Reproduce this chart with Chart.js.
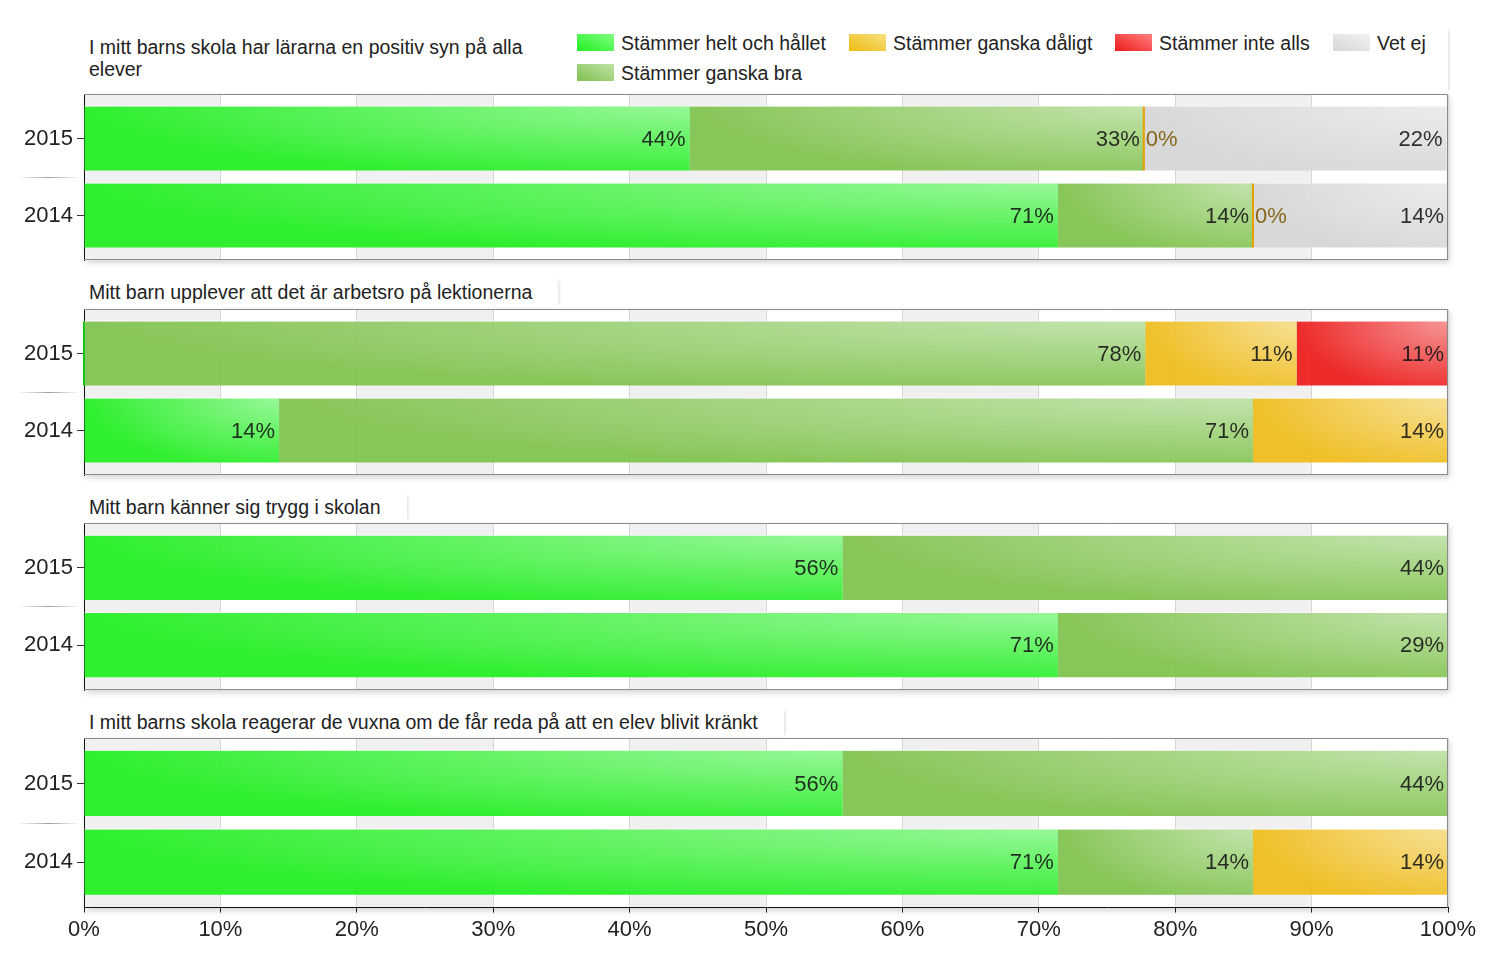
<!DOCTYPE html>
<html lang="sv">
<head>
<meta charset="utf-8">
<title>Enkät 2014-2015</title>
<script src="https://cdn.jsdelivr.net/npm/chart.js@4.4.1/dist/chart.umd.min.js"></script>
<style>
    body { margin: 0; background: #fff; font-family: "Liberation Sans", Arial, sans-serif; color: #222; }
    #page { position: relative; width: 1500px; height: 958px; overflow: hidden; }
    .panel { position: absolute; left: 0; width: 1500px; }
    .title { position: absolute; left: 84px; padding: 2px 26px 3px 5px; font-size: 19.5px; line-height: 22px;
             background: #fff; box-shadow: 3px 0 3px -2px rgba(0,0,0,0.15); white-space: nowrap; }
    .title.first { box-shadow: none; white-space: normal; }
    #topbox { position: absolute; left: 84px; top: 28px; width: 1364px; height: 64px; background: #fff;
              box-shadow: 3px 0 3px -2px rgba(0,0,0,0.15); }
    .legend-item { position: absolute; font-size: 19.5px; line-height: 20px; white-space: nowrap; padding-left: 44px; }
    .legend-item .box { position: absolute; left: 0; top: 1px; width: 37px; height: 17px; }
</style>
</head>
<body>
<div id="page">
    <div id="topbox"></div>
    <div id="legend"></div>
    <div class="title first" style="top:34px; width:460px;">I mitt barns skola har lärarna en positiv syn på alla elever</div>
    <div class="title" style="top:279px;">Mitt barn upplever att det är arbetsro på lektionerna</div>
    <div class="title" style="top:494px;">Mitt barn känner sig trygg i skolan</div>
    <div class="title" style="top:709px;">I mitt barns skola reagerar de vuxna om de får reda på att en elev blivit kränkt</div>
    <div class="panel" style="top:86px; height:182px;"><canvas id="chart1"></canvas></div>
    <div class="panel" style="top:301px; height:182px;"><canvas id="chart2"></canvas></div>
    <div class="panel" style="top:515px; height:183px;"><canvas id="chart3"></canvas></div>
    <div class="panel" style="top:730px; height:228px;"><canvas id="chart4"></canvas></div>
</div>
<script>
const years = ['2015', '2014'];
const seriesNames = ['Stämmer helt och hållet', 'Stämmer ganska bra', 'Stämmer ganska dåligt', 'Stämmer inte alls', 'Vet ej'];
const seriesColors = ['rgba(34,238,34,0.94)', 'rgba(128,194,78,0.94)', 'rgba(238,188,28,0.94)', 'rgba(236,30,30,0.94)', 'rgba(214,214,214,0.94)'];
const zeroLineColors = ['#18c818', '#6aa840', '#e8a000', '#d01010', '#b0b0b0'];
const swatchGradients = [
    'linear-gradient(to top right, #22ee22, #80ff80)',
    'linear-gradient(to top right, #80c050, #bfe3a6)',
    'linear-gradient(to top right, #eebb10, #f8e080)',
    'linear-gradient(to top right, #ee1a1a, #ff8080)',
    'linear-gradient(to top right, #d6d6d6, #f2f2f2)'
];
const xTicks = [0, 10, 20, 30, 40, 50, 60, 70, 80, 90, 100];

// values per series: [2015, 2014]; null = no answers in that group
const q1Values = [[44.4, 71.4], [33.3, 14.3], [0, 0], [null, null], [22.2, 14.3]];
const q2Values = [[0, 14.3], [77.8, 71.4], [11.1, 14.3], [11.1, null], [null, null]];
const q3Values = [[55.6, 71.4], [44.4, 28.6], [null, null], [null, null], [null, null]];
const q4Values = [[55.6, 71.4], [44.4, 14.3], [null, 14.3], [null, null], [null, null]];

// legend layout: [series index, left, top]
const legendSlots = [[0, 577, 33], [2, 849, 33], [3, 1115, 33], [4, 1333, 33], [1, 577, 63]];

const FONT = '"Liberation Sans", Arial, sans-serif';

document.addEventListener("DOMContentLoaded", function () {

    const legend = document.getElementById('legend');
    legendSlots.forEach(([si, left, top]) => {
        const item = document.createElement('div');
        item.className = 'legend-item';
        item.style.left = left + 'px';
        item.style.top = top + 'px';
        item.innerHTML = '<span class="box" style="background:' + swatchGradients[si] + '"></span>' + seriesNames[si];
        legend.appendChild(item);
    });

    const panelPlugin = {
        id: 'panelDeco',
        beforeDraw(chart) {
            const { ctx, chartArea: a } = chart;
            const x = chart.scales.x;
            ctx.save();
            ctx.shadowColor = 'rgba(0,0,0,0.16)';
            ctx.shadowBlur = 6;
            ctx.shadowOffsetX = 2;
            ctx.shadowOffsetY = 3;
            ctx.fillStyle = '#fff';
            ctx.fillRect(a.left, a.top, a.right - a.left, a.bottom - a.top);
            ctx.restore();
            // alternating bands
            ctx.fillStyle = '#f0f0f0';
            for (let i = 0; i < xTicks.length - 1; i += 2) {
                const x0 = x.getPixelForValue(xTicks[i]);
                const x1 = x.getPixelForValue(xTicks[i + 1]);
                ctx.fillRect(x0, a.top, x1 - x0, a.bottom - a.top);
            }
        },
        afterDatasetsDraw(chart) {
            const { ctx, chartArea: a } = chart;
            chart.data.datasets.forEach((ds, di) => {
                const meta = chart.getDatasetMeta(di);
                meta.data.forEach((bar, j) => {
                    const v = ds.data[j].x;
                    const left = Math.min(bar.base, bar.x);
                    const right = Math.max(bar.base, bar.x);
                    const h = bar.height;
                    const top = bar.y - h / 2;
                    ctx.save();
                    ctx.font = '22px ' + FONT;
                    ctx.textBaseline = 'middle';
                    if (right - left < 1) {
                        ctx.fillStyle = zeroLineColors[ds.seriesIndex];
                        ctx.fillRect(bar.x - 1, top, 2, h);
                        if (bar.x > a.left + 3) {
                            ctx.fillStyle = '#86661a';
                            ctx.textAlign = 'left';
                            ctx.fillText(Math.round(v) + '%', bar.x + 2, bar.y + 1);
                        }
                        ctx.restore();
                        return;
                    }
                    // highlight, lighter to the top right
                    ctx.save();
                    ctx.translate(right, top);
                    ctx.scale(right - left, h * 1.15);
                    const g = ctx.createRadialGradient(0, 0, 0, 0, 0, 1);
                    g.addColorStop(0, 'rgba(255,255,255,0.5)');
                    g.addColorStop(1, 'rgba(255,255,255,0)');
                    ctx.fillStyle = g;
                    ctx.fillRect(-1, 0, 1, 1 / 1.15);
                    ctx.restore();
                    ctx.fillStyle = 'rgba(255,255,255,0.5)';
                    ctx.fillRect(left, top - 1, right - left, 1);

                    ctx.fillStyle = 'rgba(20,20,20,0.88)';
                    ctx.textAlign = 'right';
                    ctx.fillText(Math.round(v) + '%', right - 4, bar.y + 1);
                    ctx.restore();
                });
            });
        },
        afterDraw(chart) {
            const { ctx, chartArea: a } = chart;
            const y = chart.scales.y;
            ctx.save();
            ctx.strokeStyle = '#8a8a8a';
            ctx.lineWidth = 1;
            ctx.beginPath();
            ctx.moveTo(a.left, a.top + 0.5);
            ctx.lineTo(a.right - 0.5, a.top + 0.5);
            ctx.lineTo(a.right - 0.5, a.bottom);
            if (!chart.options.scales.x.ticks.display) {
                ctx.moveTo(a.left, a.bottom - 0.5);
                ctx.lineTo(a.right, a.bottom - 0.5);
            }
            ctx.stroke();
            // separator between the years in the label column
            const ym = Math.round(y.getPixelForValue(0.5));
            const sg = ctx.createLinearGradient(18, 0, 80, 0);
            sg.addColorStop(0, 'rgba(120,120,120,0)');
            sg.addColorStop(0.5, 'rgba(120,120,120,0.7)');
            sg.addColorStop(1, 'rgba(120,120,120,0)');
            ctx.fillStyle = sg;
            ctx.fillRect(18, ym, 62, 1);
            ctx.restore();
        }
    };

    function makePanel(canvasId, values, showAxis) {
        const datasets = [];
        values.forEach((row, si) => {
            const points = [];
            row.forEach((v, yi) => {
                if (v !== null) points.push({ x: v, y: yi });
            });
            if (points.length) {
                datasets.push({
                    label: seriesNames[si],
                    seriesIndex: si,
                    data: points,
                    backgroundColor: seriesColors[si],
                    borderWidth: 0,
                    categoryPercentage: 1,
                    barPercentage: 0.83
                });
            }
        });

        const ctx = document.getElementById(canvasId).getContext('2d');
        return new Chart(ctx, {
            type: 'bar',
            data: { datasets: datasets },
            plugins: [panelPlugin],
            options: {
                indexAxis: 'y',
                responsive: true,
                maintainAspectRatio: false,
                animation: false,
                layout: { padding: { left: 0, right: 52, top: 8, bottom: showAxis ? 11 : 8 } },
                plugins: {
                    legend: { display: false },
                    tooltip: { enabled: false }
                },
                scales: {
                    x: {
                        type: 'linear',
                        stacked: true,
                        min: 0,
                        max: 100,
                        grid: {
                            color: '#d6d6d6',
                            drawTicks: showAxis,
                            tickLength: 5,
                            tickColor: '#222'
                        },
                        border: { display: showAxis, color: '#111' },
                        ticks: {
                            display: showAxis,
                            stepSize: 10,
                            padding: 4,
                            color: '#222',
                            font: { family: FONT, size: 22 },
                            callback: (v) => v + '%'
                        }
                    },
                    y: {
                        type: 'linear',
                        stacked: true,
                        reverse: true,
                        offset: false,
                        min: -0.578,
                        max: 1.578,
                        afterBuildTicks: (scale) => {
                            scale.ticks = years.map((yr, i) => ({ value: i }));
                        },
                        afterFit: (scale) => {
                            scale.width = 84;
                            scale.paddingTop = 0;
                            scale.paddingBottom = 0;
                        },
                        grid: { offset: false, drawOnChartArea: false, drawTicks: true, tickLength: 7, tickColor: '#333' },
                        border: { color: '#111' },
                        ticks: {
                            padding: 4,
                            color: '#222',
                            font: { family: FONT, size: 22 },
                            callback: (v) => years[v]
                        }
                    }
                }
            }
        });
    }

    makePanel('chart1', q1Values, false);
    makePanel('chart2', q2Values, false);
    makePanel('chart3', q3Values, false);
    makePanel('chart4', q4Values, true);
});
</script>
</body>
</html>
